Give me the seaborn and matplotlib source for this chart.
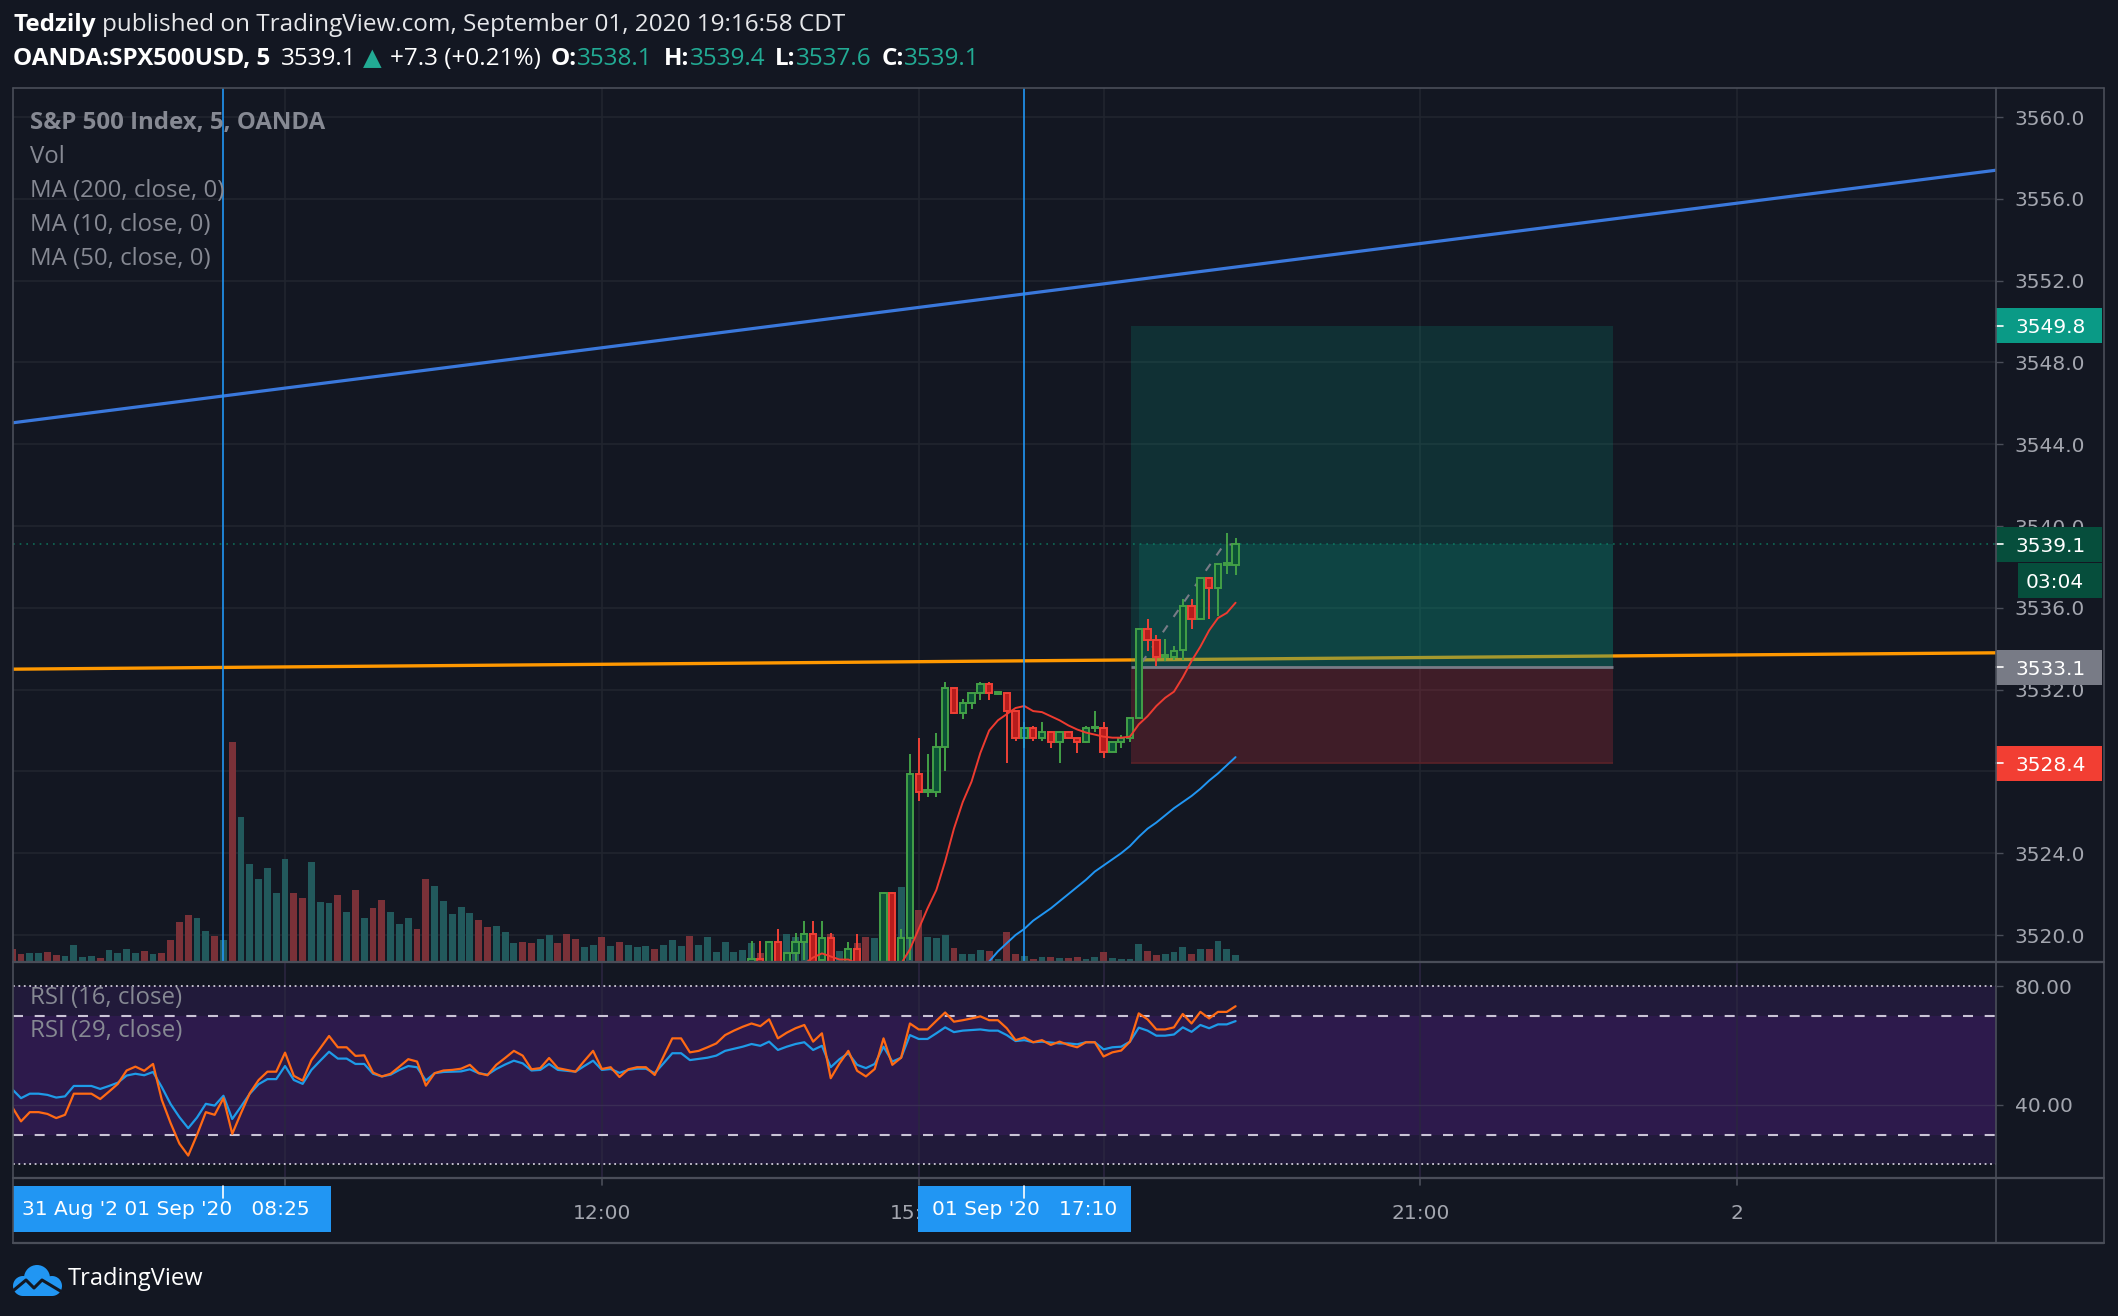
import numpy as np
import matplotlib
matplotlib.use("Agg")
import matplotlib.pyplot as plt
import matplotlib.transforms as mtransforms
from matplotlib.patches import Rectangle, Circle
from matplotlib.lines import Line2D
import seaborn as sns

# ---------------- data: 5 min bars, bar 0 = 06:25 CDT 01 Sep 2020 ----------------
volume = [13.4, 8.4, 9.4, 9.4, 10.4, 7.4, 6.4, 17.4, 5.4, 6.4,
          4.4, 12.4, 9.4, 13.4, 9.4, 11.4, 8.4, 9.4, 22.5, 39.6,
          46.6, 43.6, 31.5, 26.5, 22.5, 219.8, 145.3, 98.0, 82.9, 94.0,
          68.8, 103.0, 68.8, 63.8, 100.0, 59.7, 58.7, 66.8, 49.7, 71.8,
          43.6, 53.7, 61.7, 49.7, 37.6, 43.6, 32.6, 82.9, 75.8, 60.7,
          47.7, 54.7, 48.7, 41.6, 34.6, 35.6, 30.5, 19.5, 20.5, 19.5,
          23.5, 27.5, 19.5, 28.5, 23.5, 15.4, 17.4, 25.5, 16.4, 20.5,
          17.4, 15.4, 16.4, 13.4, 17.4, 22.5, 16.4, 26.5, 17.4, 25.5,
          10.4, 20.5, 10.4, 12.4, 19.3, 9.3, 15.0, 17.0, 27.7, 25.0,
          22.0, 20.0, 22.0, 28.3, 11.0, 10.0, 19.0, 25.0, 24.0, 35.0,
          40.0, 75.0, 60.0, 51.7, 25.0, 24.0, 27.0, 14.0, 8.3, 8.3,
          12.0, 11.0, 2.7, 29.7, 8.0, 5.7, 2.7, 4.7, 4.7, 3.7,
          3.7, 4.7, 2.7, 4.7, 9.7, 3.7, 2.7, 2.7, 17.7, 10.7,
          6.7, 7.7, 9.7, 14.7, 7.7, 12.7, 12.7, 20.7, 12.7, 6.7]
vol_dir = ("dduudduuuu" "duuuududdd" "duududuuuu" "uudduuudud" "udduuudduu"
           "uuudduuudd" "uuddduudud" "uuuduuuduu" "uuuuududuu" "ududuudduu"
           "duuduuuduu" "ududdududu" "dduuduuuud" "duuududuuu")

candle_start = 84
c_open = [3518.6, 3518.85, 3518.6, 3519.65, 3518.6, 3519.1, 3519.65, 3520.05, 3518.8, 3519.85,
          3518.3, 3518.6, 3519.3, 3518.5, 3518.2, 3518.5, 3522.05, 3518.6, 3519.85, 3527.86,
          3527.0, 3527.0, 3529.21, 3532.07, 3530.84, 3531.33, 3531.82, 3532.26, 3531.8, 3531.82,
          3530.93, 3529.62, 3530.14, 3529.62, 3529.95, 3529.46, 3529.95, 3529.62, 3529.46, 3530.1,
          3530.14, 3528.97, 3529.43, 3529.62, 3530.62, 3534.94, 3534.45, 3533.6, 3533.6, 3533.93,
          3536.1, 3535.45, 3537.44, 3536.95, 3538.1, 3538.1]
c_high = [3519.7, 3519.7, 3519.7, 3520.3, 3519.1, 3520.1, 3520.7, 3520.7, 3520.7, 3520.1,
          3518.6, 3519.65, 3520.05, 3518.6, 3518.6, 3522.1, 3522.1, 3520.3, 3528.86, 3529.62,
          3528.86, 3529.87, 3532.36, 3532.1, 3531.53, 3531.82, 3532.36, 3532.36, 3531.9, 3531.85,
          3530.95, 3530.44, 3530.2, 3530.44, 3530.0, 3530.0, 3530.0, 3529.65, 3530.2, 3530.96,
          3530.44, 3529.45, 3529.78, 3530.65, 3535.0, 3535.45, 3534.67, 3534.47, 3534.13, 3536.43,
          3536.43, 3537.45, 3537.5, 3538.15, 3539.64, 3539.4]
c_low = [3518.4, 3518.5, 3518.4, 3518.5, 3518.4, 3518.7, 3518.8, 3518.4, 3518.6, 3518.4,
         3518.0, 3518.4, 3518.4, 3518.0, 3518.0, 3518.3, 3518.3, 3518.4, 3518.8, 3526.57,
         3526.77, 3526.77, 3528.04, 3530.8, 3530.55, 3531.04, 3531.5, 3531.5, 3531.75, 3528.43,
         3529.5, 3529.13, 3529.51, 3529.51, 3529.13, 3528.43, 3529.6, 3528.92, 3529.4, 3529.95,
         3528.64, 3528.95, 3529.13, 3529.43, 3530.6, 3533.9, 3533.15, 3533.41, 3533.45, 3533.45,
         3534.94, 3535.4, 3535.45, 3535.61, 3537.63, 3537.6]
c_close = [3518.85, 3518.7, 3519.65, 3518.7, 3519.1, 3519.65, 3520.05, 3518.6, 3519.85, 3518.6,
           3518.5, 3519.3, 3518.6, 3518.2, 3518.5, 3522.05, 3518.6, 3519.85, 3527.86, 3527.0,
           3527.05, 3529.21, 3532.07, 3530.84, 3531.33, 3531.82, 3532.26, 3531.82, 3531.85, 3530.93,
           3529.62, 3530.14, 3529.62, 3529.95, 3529.46, 3529.95, 3529.62, 3529.46, 3530.14, 3530.14,
           3528.97, 3529.43, 3529.62, 3530.63, 3534.94, 3534.45, 3533.6, 3533.66, 3533.88, 3536.1,
           3535.45, 3537.44, 3536.95, 3538.12, 3538.15, 3539.1]

ma10_start = 90
ma10 = [3518.6, 3518.9, 3519.1, 3518.95, 3518.8, 3518.8, 3518.6, 3518.4, 3518.3, 3518.3,
        3518.4, 3518.6, 3519.3, 3520.3, 3521.3, 3522.2, 3523.6, 3525.2, 3526.5, 3527.5,
        3528.9, 3530.0, 3530.5, 3530.8, 3531.1, 3531.2, 3530.95, 3530.9, 3530.7, 3530.5,
        3530.25, 3530.05, 3529.9, 3529.8, 3529.7, 3529.65, 3529.65, 3529.7, 3530.3, 3530.7,
        3531.2, 3531.6, 3531.9, 3532.6, 3533.4, 3534.1, 3534.9, 3535.5, 3535.75, 3536.25]
ma50_start = 110
ma50 = [3518.4, 3518.7, 3519.2, 3519.6, 3520.0, 3520.3, 3520.7, 3521.0, 3521.3, 3521.65,
        3522.0, 3522.35, 3522.7, 3523.1, 3523.4, 3523.7, 3524.0, 3524.35, 3524.8, 3525.2,
        3525.5, 3525.85, 3526.2, 3526.5, 3526.8, 3527.15, 3527.55, 3527.9, 3528.3, 3528.7]

rsi16 = [39.3, 34.5, 37.6, 37.6, 37.0, 35.6, 36.7, 43.8, 43.8, 43.8,
         42.0, 44.5, 47.1, 51.6, 52.9, 51.5, 53.8, 41.7, 33.9, 27.0,
         23.0, 30.0, 37.6, 36.7, 42.3, 30.3, 37.3, 44.0, 48.4, 51.2,
         51.2, 57.6, 49.8, 48.2, 55.1, 59.1, 63.2, 59.4, 59.4, 56.5,
         56.7, 50.9, 49.6, 50.5, 52.9, 55.4, 54.6, 46.5, 50.7, 51.6,
         51.8, 52.2, 53.5, 50.7, 50.0, 53.5, 55.8, 58.2, 56.6, 52.0,
         52.4, 55.8, 52.4, 51.8, 51.2, 54.8, 58.2, 52.1, 52.7, 49.4,
         52.0, 52.7, 52.7, 50.1, 56.3, 62.4, 62.4, 57.7, 58.2, 59.4,
         60.7, 63.5, 65.0, 66.3, 67.4, 66.5, 68.8, 62.4, 64.3, 65.8,
         66.9, 61.3, 64.1, 49.0, 54.0, 58.2, 51.5, 49.6, 52.1, 62.4,
         53.5, 55.9, 67.4, 65.4, 65.4, 68.3, 71.1, 68.0, 68.5, 69.1,
         69.8, 68.5, 68.5, 65.8, 61.8, 62.7, 61.1, 61.8, 60.2, 61.3,
         60.2, 59.4, 61.1, 61.1, 56.3, 57.7, 58.3, 61.3, 70.8, 68.8,
         65.4, 65.4, 66.1, 70.6, 67.4, 71.3, 69.1, 71.3, 71.3, 73.2]
rsi29 = [45.3, 42.3, 43.8, 43.8, 43.4, 42.5, 42.9, 46.4, 46.4, 46.4,
         45.4, 46.4, 47.5, 49.9, 50.5, 50.0, 51.1, 46.0, 40.3, 35.9,
         32.2, 35.8, 40.4, 39.8, 43.1, 35.3, 39.5, 43.8, 47.0, 48.7,
         48.7, 53.1, 48.4, 47.1, 51.8, 54.9, 57.9, 55.6, 55.6, 53.8,
         53.8, 50.5, 49.6, 50.2, 51.8, 53.1, 52.7, 48.2, 50.7, 51.1,
         51.2, 51.3, 52.0, 50.7, 50.2, 52.1, 53.6, 54.9, 54.0, 51.6,
         51.8, 53.8, 51.8, 51.5, 51.2, 53.1, 54.9, 51.8, 52.1, 50.8,
         51.8, 52.2, 52.2, 50.7, 54.0, 57.4, 57.4, 55.1, 55.5, 55.9,
         56.6, 58.2, 58.9, 59.6, 60.5, 59.9, 61.3, 58.5, 59.6, 60.5,
         61.1, 58.5, 59.9, 52.7, 55.4, 57.4, 53.5, 52.4, 53.8, 59.6,
         54.6, 55.9, 63.5, 62.2, 62.2, 64.1, 66.1, 64.5, 65.0, 65.2,
         65.4, 65.0, 65.0, 63.5, 61.5, 61.8, 61.1, 61.3, 61.0, 60.7,
         60.7, 60.4, 61.1, 61.1, 58.7, 59.4, 59.6, 61.3, 66.0, 65.0,
         63.3, 63.3, 63.7, 66.1, 64.6, 66.9, 65.8, 67.1, 67.1, 68.2]

# drawings (bar index / price)
trend_x = [0.09, 225.4]
trend_blue = [3545.05, 3557.4]
trend_orange = [3533.0, 3533.8]
marker_bars = [24, 115]
pos_start, pos_fill_start, pos_end = 127.1, 128.0, 181.9
entry, target, stop, last = 3533.1, 3549.8, 3528.4, 3539.1
pos_path_x = [128.3, 137.7, 139.0]
pos_path_y = [3533.3, 3539.1, 3539.1]

price_ticks = [3520.0, 3524.0, 3528.0, 3532.0, 3536.0, 3540.0, 3544.0, 3548.0, 3552.0, 3556.0, 3560.0]
rsi_ticks = [40, 80]
time_ticks = [31, 67, 103, 124, 160, 196]
time_labels = ["", "12:00", "15:00", "", "21:00", "2"]   # 09:00 / 18:00 sit under the crosshair labels

# ---------------- style ----------------
W, H = 2118, 1316
BG = "#131722"
GRID = "#21252f"
FRAME = "#4a4e59"
AXTXT = "#a3a6af"
LEG = "#868993"
TEAL = "#22ab94"
UP_EDGE, UP_FILL = "#43a047", "#0b5236"
DN_EDGE, DN_FILL = "#ef4136", "#b71c1c"

sns.set_theme(style="dark", rc={"axes.facecolor": BG, "figure.facecolor": BG,
                                "savefig.facecolor": BG, "axes.grid": False})
plt.rcParams["font.family"] = ["Open Sans", "DejaVu Sans"]

XLIM = (0.09, 225.4)
PRICE_LIM = (3518.68, 3561.42)
RSI_LIM = (15.46, 88.07)


def px_rect(x0, y0, x1, y1):
    return [x0 / W, 1 - y1 / H, (x1 - x0) / W, (y1 - y0) / H]


fig = plt.figure(figsize=(W / 100, H / 100), dpi=100)

# price pane: grid/labels layer, volume layer, price layer
ax_grid = fig.add_axes(px_rect(13, 88, 1996, 962))
ax_vol = fig.add_axes(px_rect(13, 88, 1996, 962), sharex=ax_grid)
ax = fig.add_axes(px_rect(13, 88, 1996, 962), sharex=ax_grid, sharey=ax_grid)
for a in (ax_vol, ax):
    a.patch.set_alpha(0)

ax_grid.set_xlim(*XLIM)
ax_grid.set_ylim(*PRICE_LIM)
for t in time_ticks:
    ax_grid.axvline(t, color=GRID, lw=1.2, zorder=0)
for p in price_ticks:
    ax_grid.axhline(p, color=GRID, lw=1.2, zorder=0)
ax_grid.yaxis.tick_right()
ax_grid.set_yticks(price_ticks)
# 3528.0 is fully covered by the stop-loss label
ax_grid.set_yticklabels(["" if p == 3528.0 else f"{p:.1f}" for p in price_ticks])
ax_grid.set_xticks([])
ax_grid.tick_params(axis="y", colors=FRAME, labelcolor=AXTXT, labelsize=14.5, length=5, width=1, pad=8.6)
for lab in ax_grid.get_yticklabels():
    lab.set_family("DejaVu Sans")
for s in ax_grid.spines.values():
    s.set_visible(False)

# volume
bars = np.arange(len(volume))
vol_cols = ["#22595c" if d == "u" else "#7a3138" for d in vol_dir]
ax_vol.bar(bars, volume, width=0.78, color=vol_cols, linewidth=0)
ax_vol.set_ylim(0, 874)
ax_vol.set_axis_off()

# drawings
sns.lineplot(x=trend_x, y=trend_blue, ax=ax, color="#3a78dc", lw=2.3, legend=False, zorder=2)
sns.lineplot(x=trend_x, y=trend_orange, ax=ax, color="#ff9800", lw=2.4, legend=False, zorder=2)
for b in marker_bars:
    ax.axvline(b, color="#2196f3", lw=1.2, zorder=8)
ax.axhline(last, color="#0e6b55", lw=1.2, ls=(0, (1, 3)), zorder=3)

# long position tool
ax.add_patch(Rectangle((pos_start, entry), pos_end - pos_start, target - entry,
                       fc=(8 / 255, 153 / 255, 129 / 255, 0.2), ec="none", zorder=3))
ax.add_patch(Rectangle((pos_fill_start, entry), pos_end - pos_fill_start, last - entry,
                       fc=(8 / 255, 153 / 255, 129 / 255, 0.2), ec="none", zorder=3))
ax.add_patch(Rectangle((pos_start, stop), pos_end - pos_start, entry - stop,
                       fc=(242 / 255, 54 / 255, 69 / 255, 0.2), ec="none", zorder=3))
ax.hlines(entry, pos_start, pos_end, color="#787b86", lw=2.0, zorder=4)
ax.hlines(stop, pos_start, pos_end, color="#5a2229", lw=1.2, zorder=4)
ax.plot(pos_path_x, pos_path_y, color="#787b86", lw=1.5, ls=(0, (4, 5)), zorder=4)

# candles
ci = np.arange(candle_start, candle_start + len(c_open))
o, hh, ll, cc = map(np.array, (c_open, c_high, c_low, c_close))
up = cc >= o
edge = [UP_EDGE if u else DN_EDGE for u in up]
fill = [UP_FILL if u else DN_FILL for u in up]
ax.vlines(ci, ll, hh, colors=edge, lw=1.4, zorder=5)
ax.bar(ci, np.maximum(np.abs(cc - o), 0.07), bottom=np.minimum(o, cc), width=0.72,
       color=fill, edgecolor=edge, linewidth=1.4, zorder=6)

# moving averages
sns.lineplot(x=np.arange(ma10_start, ma10_start + len(ma10)), y=ma10, ax=ax,
             color="#ee3b30", lw=1.4, legend=False, zorder=7)
sns.lineplot(x=np.arange(ma50_start, ma50_start + len(ma50)), y=ma50, ax=ax,
             color="#2196f3", lw=1.4, legend=False, zorder=7)
ax.set_xlim(*XLIM)
ax.set_ylim(*PRICE_LIM)
ax.set_axis_off()

# price labels on the scale
trans = mtransforms.blended_transform_factory(ax.transAxes, ax.transData)
bw, bh = 106 / 1983, 1.71
for val, col in [(target, "#0a9a86"), (last, "#064e3c"), (entry, "#787b86"), (stop, "#f23e33")]:
    ax.add_patch(Rectangle((1.0, val - bh / 2), bw, bh, transform=trans, fc=col, ec="none",
                           clip_on=False, zorder=20))
    ax.plot([1.0, 1.0 + 7 / 1983], [val, val], transform=trans, color="white", lw=1.2,
            clip_on=False, zorder=21)
    ax.text(1.0 + 19 / 1983, val, f"{val:.1f}", transform=trans, color="white", fontsize=14.5,
            family="DejaVu Sans", va="center_baseline", ha="left", clip_on=False, zorder=21)
ax.add_patch(Rectangle((1.0 + 22 / 1983, 3537.33 - bh / 2), 84 / 1983, bh, transform=trans,
                       fc="#064e3c", ec="none", clip_on=False, zorder=20))
ax.text(1.0 + 30 / 1983, 3537.33, "03:04", transform=trans, color="white", fontsize=14.5,
        family="DejaVu Sans", va="center_baseline", ha="left", clip_on=False, zorder=21)

# ---------------- RSI pane ----------------
ax_rsi = fig.add_axes(px_rect(13, 962, 1996, 1178), sharex=ax_grid)
ax_rsi.axhspan(20, 80, color="#211a3a", lw=0, zorder=0)
ax_rsi.axhspan(30, 70, color="#2d1a4c", lw=0, zorder=0)
for t in time_ticks:
    ax_rsi.axvline(t, color="#2a2540", lw=1.2, zorder=1)
ax_rsi.axhline(40, color="#3a2d55", lw=1.0, zorder=1)
for lvl in (80, 20):
    ax_rsi.axhline(lvl, color="#cfcbd8", lw=1.3, ls=(0, (1, 2)), zorder=2)
for lvl in (70, 30):
    ax_rsi.axhline(lvl, color="#c9c3d6", lw=1.5, ls=(0, (4.8, 5.6)), zorder=2)
sns.lineplot(x=bars, y=rsi16, ax=ax_rsi, color="#ff6a14", lw=1.6, legend=False, zorder=4)
sns.lineplot(x=bars, y=rsi29, ax=ax_rsi, color="#1e9be8", lw=1.6, legend=False, zorder=3)
ax_rsi.set_xlim(*XLIM)
ax_rsi.set_ylim(*RSI_LIM)
ax_rsi.set_xlabel("")
ax_rsi.set_ylabel("")
ax_rsi.yaxis.tick_right()
ax_rsi.set_yticks(rsi_ticks)
ax_rsi.set_yticklabels([f"{v:.2f}" for v in rsi_ticks])
ax_rsi.tick_params(axis="y", colors=FRAME, labelcolor=AXTXT, labelsize=14.5, length=5, width=1, pad=8.6)
ax_rsi.tick_params(axis="x", bottom=False, labelbottom=False)
for lab in ax_rsi.get_yticklabels():
    lab.set_family("DejaVu Sans")
for s in ax_rsi.spines.values():
    s.set_visible(False)

# ---------------- time axis ----------------
ax_t = fig.add_axes(px_rect(13, 1178, 1996, 1243), sharex=ax_grid)
ax_t.set_ylim(0, 1)
ax_t.set_axis_off()
ax_t.patch.set_alpha(0)
for t, lab in zip(time_ticks, time_labels):
    ax_t.plot([t, t], [1.0, 0.9], color=FRAME, lw=1.2)
    if lab:
        ax_t.text(t, 0.45, lab, color=AXTXT, fontsize=14.5, family="DejaVu Sans", ha="center", va="center")
ax_t.add_patch(Rectangle((0.09, 0.17), 36.1, 0.71, fc="#2196f3", ec="none", zorder=5))
ax_t.text(0.09 + 1.0, 0.52, "31 Aug '2 01 Sep '20   08:25", color="white", fontsize=14.5,
          family="DejaVu Sans", ha="left", va="center", zorder=6)
ax_t.add_patch(Rectangle((102.9, 0.17), 24.2, 0.71, fc="#2196f3", ec="none", zorder=5))
ax_t.text(115.0, 0.52, "01 Sep '20   17:10", color="white", fontsize=14.5,
          family="DejaVu Sans", ha="center", va="center", zorder=6)
for b in marker_bars:
    ax_t.plot([b, b], [0.88, 0.7], color="white", lw=1.2, zorder=7)
ax_t.set_xlim(*XLIM)

# ---------------- frame ----------------
def fline(x0, y0, x1, y1, lw):
    fig.add_artist(Line2D([x0 / W, x1 / W], [1 - y0 / H, 1 - y1 / H], color=FRAME, lw=lw))


fline(13, 88, 2104, 88, 1.2)
fline(13, 1243, 2104, 1243, 1.6)
fline(13, 88, 13, 1243, 1.2)
fline(2104, 88, 2104, 1243, 1.2)
fline(1996, 88, 1996, 1243, 1.2)
fline(13, 962, 2104, 962, 1.6)
fline(13, 1178, 2104, 1178, 1.6)

# ---------------- texts ----------------
renderer = fig.canvas.get_renderer()
px = mtransforms.IdentityTransform()


def put_pieces(x, y, pieces, size):
    for s, col, wt, gap in pieces:
        x += gap
        t = fig.text(x, H - y, s, color=col, fontweight=wt, fontsize=size, va="center",
                     ha="left", transform=px, family=["Open Sans", "DejaVu Sans"])
        x = t.get_window_extent(renderer).x1


put_pieces(13, 25, [("Tedzily", "white", "bold", 0),
                    ("published on TradingView.com, September 01, 2020 19:16:58 CDT", "#e6e7ea", "normal", 7)], 17.5)
put_pieces(13, 59, [("OANDA:SPX500USD, 5", "white", "bold", 0),
                    ("3539.1", "white", "normal", 11), ("\u25b2", TEAL, "normal", 6),
                    ("+7.3 (+0.21%)", "white", "normal", 8),
                    ("O:", "white", "bold", 10), ("3538.1", TEAL, "normal", 0),
                    ("H:", "white", "bold", 12), ("3539.4", TEAL, "normal", 0),
                    ("L:", "white", "bold", 10), ("3537.6", TEAL, "normal", 0),
                    ("C:", "white", "bold", 10), ("3539.1", TEAL, "normal", 0)], 17.5)

legend_rows = ["S&P 500 Index, 5, OANDA", "Vol", "MA (200, close, 0)", "MA (10, close, 0)", "MA (50, close, 0)"]
for k, row in enumerate(legend_rows):
    fig.text(30, H - (123 + 34 * k), row, color=LEG, fontsize=17.3, va="center", ha="left",
             transform=px, fontweight="bold" if k == 0 else "normal")
fig.text(30, H - 998, "RSI (16, close)", color=LEG, fontsize=17.3, va="center", transform=px)
fig.text(30, H - 1031, "RSI (29, close)", color=LEG, fontsize=17.3, va="center", transform=px)

# TradingView logo
ax_logo = fig.add_axes(px_rect(12, 1262, 64, 1298))
ax_logo.set_xlim(0, 52)
ax_logo.set_ylim(0, 36)
ax_logo.set_axis_off()
for cx, cy, r in [(11, 12, 10), (25, 20, 13), (40, 12, 10)]:
    ax_logo.add_patch(Circle((cx, cy), r, fc="#2196f3", ec="none"))
ax_logo.add_patch(Rectangle((11, 2), 29, 10, fc="#2196f3", ec="none"))
ax_logo.plot([2, 14, 22, 30, 50], [8, 18, 10, 18, 6], color=BG, lw=2.2)
fig.text(68, H - 1279, "TradingView", color="white", fontsize=17, va="center", transform=px)

fig.savefig("out.png", dpi=100, facecolor=BG)
